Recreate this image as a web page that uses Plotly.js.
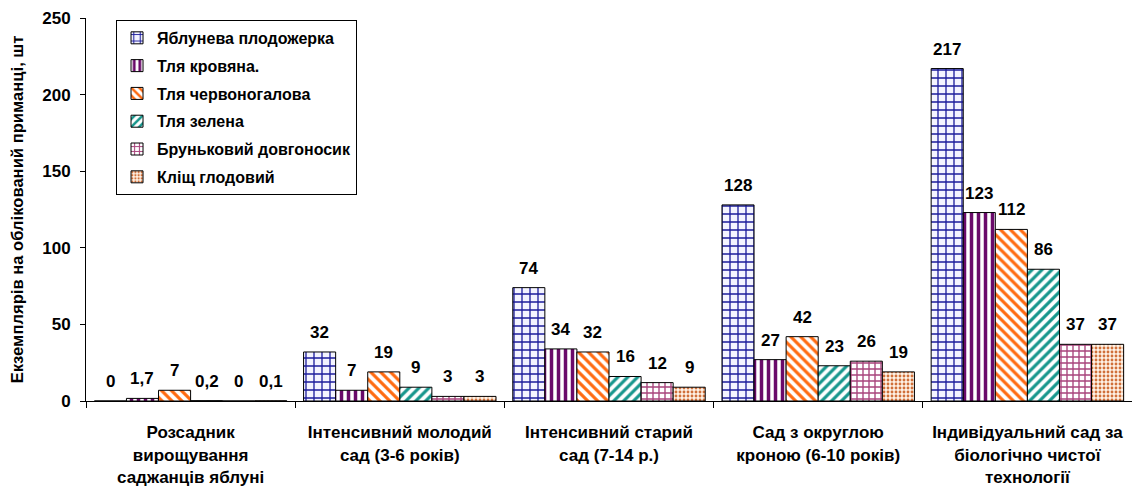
<!DOCTYPE html>
<html><head><meta charset="utf-8">
<script src="https://cdn.plot.ly/plotly-3.0.1.min.js"></script>
<style>html,body{margin:0;padding:0;background:#fff}</style>
</head><body><div id="chart" style="width:1132px;height:490px"></div>
<script>
const categories = [
  "Розсадник<br>вирощування<br>саджанців яблуні",
  "Інтенсивний молодий<br>сад (3-6 років)",
  "Інтенсивний старий<br>сад (7-14 р.)",
  "Сад з округлою<br>кроною (6-10 років)",
  "Індивідуальний сад за<br>біологічно чистої<br>технології"
];
const seriesNames = ["Яблунева плодожерка","Тля кровяна.","Тля червоногалова","Тля зелена","Бруньковий довгоносик","Кліщ глодовий"];
const yablunevaPlodozherka = [0, 32, 74, 128, 217];
const tlyaKrovyana = [1.7, 7, 34, 27, 123];
const tlyaChervonogalova = [7, 19, 32, 42, 112];
const tlyaZelena = [0.2, 9, 16, 23, 86];
const brunkovyiDovgonosyk = [0, 3, 12, 26, 37];
const klishchGlodovyi = [0.1, 3, 9, 19, 37];
const seriesValues = [yablunevaPlodozherka, tlyaKrovyana, tlyaChervonogalova, tlyaZelena, brunkovyiDovgonosyk, klishchGlodovyi];

const styles = [
  {shape:"+", fg:"#1c1c9c", bg:"#f4f4ff", size:8, sol:0.3},
  {shape:"|", fg:"#6a0a6a", bg:"#ffffff", size:7, sol:0.5},
  {shape:"\\", fg:"#ff6a10", bg:"#ffffff", size:7, sol:0.45},
  {shape:"/", fg:"#16968c", bg:"#ffffff", size:7, sol:0.45},
  {shape:"+", fg:"#a8447c", bg:"#ffffff", size:6, sol:0.4},
  {shape:".", fg:"#d0703a", bg:"#fff2e6", size:4, sol:0.4}
];
const FONT = "Liberation Sans, Arial, sans-serif";
const bargap = 0.08;
const n = seriesNames.length;
const xIdx = categories.map((c,i)=>i);

const traces = seriesNames.map((name, j) => ({
  type: "bar",
  name: name,
  x: categories,
  y: seriesValues[j],
  legendgroup: "g" + j,
  marker: {
    color: "#ffffff",
    line: {color: "#000000", width: 1},
    pattern: {shape: styles[j].shape, fgcolor: styles[j].fg, bgcolor: styles[j].bg, size: styles[j].size, solidity: styles[j].sol, fillmode: "replace"}
  },
  hoverinfo: "skip"
}));

const w = (1 - bargap) / n;
const annotations = [];
seriesValues.forEach((vals, j) => {
  vals.forEach((v, i) => {
    annotations.push({
      x: xIdx[i] - (1 - bargap) / 2 + (j + 0.5) * w,
      y: v, xref: "x", yref: "y",
      text: String(v).replace(".", ","),
      showarrow: false, yanchor: "bottom", yshift: 8,
      font: {family: FONT, size: 17, color: "#000", weight: "bold"}
    });
  });
});

const layout = {
  width: 1132, height: 490,
  margin: {l: 86, r: 0, t: 18, b: 89},
  paper_bgcolor: "#fff", plot_bgcolor: "#fff",
  barmode: "group", bargap: bargap, bargroupgap: 0,
  font: {family: FONT, size: 15, color: "#000", weight: "bold"},
  showlegend: true,
  legend: {
    x: 0.0287, y: 0.995, xanchor: "left", yanchor: "top",
    bgcolor: "#fff", bordercolor: "#000", borderwidth: 1,
    font: {family: FONT, size: 16, color: "#000", weight: "bold"},
    traceorder: "grouped", tracegroupgap: 4
  },
  xaxis: {
    type: "category", showline: true, linecolor: "#000", linewidth: 1,
    ticks: "outside", tickson: "boundaries", ticklen: 6, tickcolor: "#000",
    showgrid: false, zeroline: false, ticklabelstandoff: 16,
    tickfont: {family: FONT, size: 17, color: "#000", weight: "bold"},
    automargin: false
  },
  yaxis: {
    range: [0, 250], dtick: 50, showline: true, linecolor: "#000", linewidth: 1,
    ticks: "outside", ticklen: 5, tickcolor: "#000", showgrid: false, zeroline: false,
    ticklabelstandoff: 6,
    tickfont: {family: FONT, size: 17, color: "#000", weight: "bold"},
    title: {text: "Екземплярів на облікований приманці, шт", standoff: 14,
      font: {family: FONT, size: 16.6, color: "#000", weight: "bold"}},
    automargin: false
  },
  annotations: annotations
};

Plotly.newPlot("chart", traces, layout, {displayModeBar: false, staticPlot: true});
</script></body></html>
